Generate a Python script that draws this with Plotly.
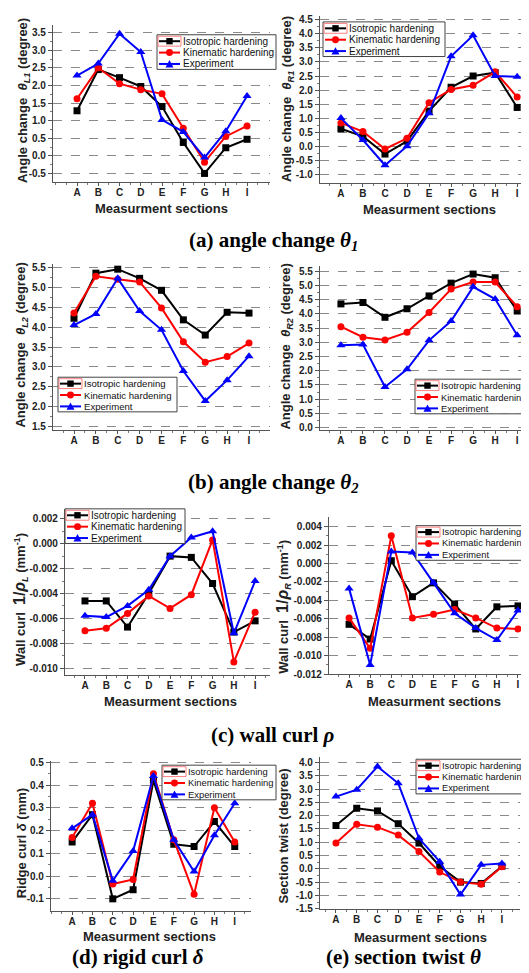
import plotly.graph_objects as go
import numpy as np

W, H = 529, 973
sections = ["A", "B", "C", "D", "E", "F", "G", "H", "I"]
series_names = ["Isotropic hardening", "Kinematic hardening", "Experiment"]
series_colors = ["#000000", "#ff0000", "#0000ff"]
series_symbols = ["square", "circle", "triangle-up"]

# (a) angle change theta_1
thetaL1_iso = [1.28, 2.45, 2.22, 1.97, 1.40, 0.38, -0.50, 0.23, 0.47]
thetaL1_kin = [1.62, 2.50, 2.05, 1.88, 1.76, 0.78, -0.18, 0.55, 0.85]
thetaL1_exp = [2.28, 2.62, 3.47, 2.95, 1.02, 0.68, -0.05, 0.70, 1.70]

thetaR1_iso = [0.62, 0.35, -0.28, 0.18, 1.25, 2.10, 2.50, 2.62, 1.38]
thetaR1_kin = [0.83, 0.52, -0.10, 0.28, 1.55, 2.02, 2.17, 2.65, 1.75]
thetaR1_exp = [1.00, 0.22, -0.68, 0.00, 1.17, 3.20, 3.95, 2.50, 2.47]

# (b) angle change theta_2
thetaL2_iso = [4.22, 5.35, 5.45, 5.22, 4.92, 4.18, 3.80, 4.37, 4.35]
thetaL2_kin = [4.35, 5.27, 5.20, 5.13, 4.48, 3.63, 3.12, 3.26, 3.60]
thetaL2_exp = [4.05, 4.33, 5.22, 4.40, 3.93, 2.90, 2.15, 2.67, 3.27]

thetaR2_iso = [4.35, 4.40, 3.88, 4.18, 4.63, 5.08, 5.40, 5.27, 4.10]
thetaR2_kin = [3.55, 3.18, 3.08, 3.35, 4.05, 4.87, 5.12, 5.12, 4.25]
thetaR2_exp = [2.90, 2.92, 1.43, 2.05, 3.07, 3.75, 4.95, 4.52, 3.25]

# (c) wall curl 1/rho
rhoL_iso = [-0.0046, -0.0046, -0.0067, -0.0040, -0.0010, -0.0011, -0.0032, -0.0071, -0.0062]
rhoL_kin = [-0.0070, -0.0068, -0.0056, -0.0042, -0.0052, -0.0041, 0.0003, -0.0095, -0.0055]
rhoL_exp = [-0.0058, -0.0059, -0.0050, -0.0037, -0.0010, 0.0005, 0.0010, -0.0072, -0.0030]

rhoR_iso = [-0.0066, -0.0082, 0.0003, -0.0036, -0.0021, -0.0044, -0.0071, -0.0047, -0.0046]
rhoR_kin = [-0.0059, -0.0092, 0.0030, -0.0059, -0.0055, -0.0050, -0.0059, -0.0070, -0.0071]
rhoR_exp = [-0.0027, -0.0110, 0.0013, 0.0012, -0.0021, -0.0054, -0.0070, -0.0083, -0.0051]

# (d) ridge curl delta
delta_iso = [0.15, 0.27, -0.10, -0.06, 0.42, 0.14, 0.13, 0.24, 0.13]
delta_kin = [0.17, 0.32, -0.035, -0.015, 0.45, 0.16, -0.08, 0.30, 0.15]
delta_exp = [0.21, 0.27, -0.02, 0.11, 0.44, 0.16, 0.02, 0.18, 0.32]

# (e) section twist
twist_iso = [1.63, 2.28, 2.18, 1.70, 0.97, 0.10, -0.50, -0.55, 0.10]
twist_kin = [0.97, 1.68, 1.57, 1.27, 0.65, -0.12, -0.50, -0.58, 0.08]
twist_exp = [2.72, 2.98, 3.85, 3.22, 1.15, 0.27, -0.97, 0.15, 0.20]

SANS = "Liberation Sans, Arial, sans-serif"
SERIF = "Liberation Serif, Times New Roman, serif"

def px(x):
    return x / W

def py(y):
    return 1 - y / H

panels = [
    dict(data=[thetaL1_iso, thetaL1_kin, thetaL1_exp], xd=(45, 262), yd=(13, 172),
         xr=(-1.13, 9.08), yr=(-0.75, 3.72), tk=(-0.5, 3.5, 0.5), fmt="{:.1f}",
         ytitle="Angle change  <i>θ</i><sub><i>L1</i></sub> (degree)", ytpos=(15, 90),
         xtpos=(153, 199), leg=(149, 23, 119, 10)),
    dict(data=[thetaR1_iso, thetaR1_kin, thetaR1_exp], xd=(312, 529), yd=(4, 173),
         xr=(-0.95, 8.9), yr=(-1.32, 4.64), tk=(-1.0, 4.5, 0.5), fmt="{:.1f}",
         ytitle="Angle change  <i>θ</i><sub><i>R1</i></sub> (degree)", ytpos=(279, 88),
         xtpos=(421, 200), leg=(315, 10, 122, 10)),
    dict(data=[thetaL2_iso, thetaL2_kin, thetaL2_exp], xd=(45, 262), yd=(255, 422),
         xr=(-0.96, 8.96), yr=(1.43, 5.57), tk=(1.5, 5.5, 0.5), fmt="{:.1f}",
         ytitle="Angle change  <i>θ</i><sub><i>L2</i></sub> (degree)", ytpos=(14, 337),
         xtpos=None, leg=(50, 369, 119, 9.6)),
    dict(data=[thetaR2_iso, thetaR2_kin, thetaR2_exp], xd=(312, 529), yd=(257, 422),
         xr=(-0.95, 8.9), yr=(-0.07, 5.67), tk=(0.0, 5.5, 0.5), fmt="{:.1f}",
         ytitle="Angle change  <i>θ</i><sub><i>R2</i></sub> (degree)", ytpos=(279, 338),
         xtpos=None, leg=(407, 371, 125, 9.4)),
    dict(data=[rhoL_iso, rhoL_kin, rhoL_exp], xd=(57, 262), yd=(502, 670),
         xr=(-0.94, 8.7), yr=(-0.01056, 0.0028), tk=(-0.010, 0.002, 0.002), fmt="{:.3f}",
         ytitle="Wall curl  <span style='font-size:16px'>1/<i>ρ</i></span><sub><i>L</i></sub> (mm<sup>-1</sup>)",
         ytpos=(13, 594), xtpos=(162, 697), leg=(57, 502, 120, 10)),
    dict(data=[rhoR_iso, rhoR_kin, rhoR_exp], xd=(321, 529), yd=(510, 669),
         xr=(-0.95, 8.9), yr=(-0.012, 0.00507), tk=(-0.012, 0.004, 0.002), fmt="{:.3f}",
         ytitle="Wall curl  <span style='font-size:16px'>1/<i>ρ</i></span><sub><i>R</i></sub> (mm<sup>-1</sup>)",
         ytpos=(276, 601), xtpos=(426, 697), leg=(408, 519, 125, 9.3)),
    dict(data=[delta_iso, delta_kin, delta_exp], xd=(43, 243), yd=(757, 908),
         xr=(-1.04, 8.8), yr=(-0.152, 0.505), tk=(-0.1, 0.5, 0.1), fmt="{:.1f}",
         ytitle="Ridge curl <i>δ</i> (mm)", ytpos=(13, 840),
         xtpos=(141, 934), leg=(154, 761, 114, 9.4)),
    dict(data=[twist_iso, twist_kin, twist_exp], xd=(312, 512), yd=(753, 906),
         xr=(-0.77, 8.87), yr=(-1.5, 4.2), tk=(-1.5, 4.0, 0.5), fmt="{:.1f}",
         ytitle="Section twist (degree)", ytpos=(275, 833),
         xtpos=(412, 935), leg=(408, 755, 125, 9.3)),
]

captions = [
    ("<b>(a) angle change <i>θ</i><sub><i>1</i></sub></b>", 265, 231),
    ("<b>(b) angle change <i>θ</i><sub><i>2</i></sub></b>", 265, 476),
    ("<b>(c) wall curl <i>ρ</i></b>", 265, 731),
    ("<b>(d) rigid curl <i>δ</i></b>", 130, 955),
    ("<b>(e) section twist <i>θ</i></b>", 395, 955),
]

fig = go.Figure()
layout = dict(width=W, height=H, margin=dict(l=0, r=0, t=0, b=0), autosize=False,
              plot_bgcolor="white", paper_bgcolor="white", showlegend=False)
annotations = []
shapes = []
xidx = list(range(len(sections)))

for i, p in enumerate(panels, start=1):
    sfx = "" if i == 1 else str(i)
    for vals, name, col, sym in zip(p["data"], series_names, series_colors, series_symbols):
        fig.add_trace(go.Scatter(
            x=xidx, y=vals, name=name, mode="lines+markers",
            xaxis="x" + sfx, yaxis="y" + sfx,
            line=dict(color=col, width=2),
            marker=dict(symbol=sym, size=8 if sym == "triangle-up" else 7, color=col),
            cliponaxis=False,
        ))
    t0, t1, dt = p["tk"]
    tv = [float(v) for v in np.round(np.arange(t0, t1 + dt / 2, dt), 6)]
    tt = [p["fmt"].format(v) for v in tv]
    tt = ["0.000" if t == "-0.000" else ("0.0" if t == "-0.0" else t) for t in tt]
    layout["xaxis" + sfx] = dict(
        domain=[px(p["xd"][0]), px(p["xd"][1])], anchor="y" + sfx, range=list(p["xr"]),
        tickvals=xidx, ticktext=sections, ticks="outside", ticklen=3, tickwidth=1,
        tickcolor="#555", showline=True, linecolor="#555", linewidth=1.2,
        showgrid=False, zeroline=False, ticklabelstandoff=-2,
        minor=dict(dtick=0.5, tick0=0, ticks="outside", ticklen=2, tickcolor="#777", showgrid=False),
        tickfont=dict(family=SANS, size=10, color="#222", weight="bold"),
    )
    layout["yaxis" + sfx] = dict(
        domain=[py(p["yd"][1]), py(p["yd"][0])], anchor="x" + sfx, range=list(p["yr"]),
        tickvals=tv, ticktext=tt, ticks="outside", ticklen=4, tickwidth=1, tickcolor="#555",
        showline=True, linecolor="#555", linewidth=1.2, zeroline=False,
        showgrid=True, gridcolor="#8a8a8a", gridwidth=1.3, griddash="dash",
        minor=dict(tickvals=[round(v + dt / 2, 6) for v in tv[:-1]], ticks="outside",
                   ticklen=2, tickcolor="#777", showgrid=False),
        tickfont=dict(family=SANS, size=10, color="#222", weight="bold"),
    )
    # axis titles
    annotations.append(dict(text=p["ytitle"], x=px(p["ytpos"][0]), y=py(p["ytpos"][1]),
                            xref="paper", yref="paper", showarrow=False, textangle=-90,
                            xanchor="center", yanchor="middle",
                            font=dict(family=SANS, size=13, color="#222", weight="bold")))
    if p["xtpos"] is not None:
        annotations.append(dict(text="Measurment sections", x=px(p["xtpos"][0]), y=py(p["xtpos"][1]),
                                xref="paper", yref="paper", showarrow=False,
                                xanchor="center", yanchor="middle",
                                font=dict(family=SANS, size=13, color="#222", weight="bold")))
    # legend box
    lx, ly, lw, fs = p["leg"]
    lh = 35
    shapes.append(dict(type="rect", xref="paper", yref="paper",
                       x0=px(lx), x1=px(min(lx + lw, W - 0.5)), y0=py(ly + lh), y1=py(ly),
                       fillcolor="white", line=dict(color="#444", width=1), layer="above"))
    for k, (name, col, sym) in enumerate(zip(series_names, series_colors, series_symbols)):
        ry = ly + 6.5 + k * 11.5
        sx0, sx1 = lx + 2, lx + 23
        cx = (sx0 + sx1) / 2
        if k == 0:
            shapes.append(dict(type="rect", xref="paper", yref="paper",
                               x0=px(sx0 - 1), x1=px(sx1 + 1), y0=py(ry + 5), y1=py(ry - 5),
                               line=dict(color="#ff6060", width=0.8), layer="above"))
        shapes.append(dict(type="line", xref="paper", yref="paper",
                           x0=px(sx0), x1=px(sx1), y0=py(ry), y1=py(ry),
                           line=dict(color=col, width=2), layer="above"))
        if sym == "square":
            shapes.append(dict(type="rect", xref="paper", yref="paper",
                               x0=px(cx - 3.2), x1=px(cx + 3.2), y0=py(ry + 3.2), y1=py(ry - 3.2),
                               fillcolor=col, line=dict(width=0), layer="above"))
        elif sym == "circle":
            shapes.append(dict(type="circle", xref="paper", yref="paper",
                               x0=px(cx - 3.5), x1=px(cx + 3.5), y0=py(ry + 3.5), y1=py(ry - 3.5),
                               fillcolor=col, line=dict(width=0), layer="above"))
        else:
            path = "M {:.5f},{:.5f} L {:.5f},{:.5f} L {:.5f},{:.5f} Z".format(
                px(cx - 4), py(ry + 3.5), px(cx + 4), py(ry + 3.5), px(cx), py(ry - 4))
            shapes.append(dict(type="path", xref="paper", yref="paper", path=path,
                               fillcolor=col, line=dict(width=0), layer="above"))
        annotations.append(dict(text=name, x=px(lx + 24), y=py(ry), xref="paper", yref="paper",
                                showarrow=False, xanchor="left", yanchor="middle",
                                font=dict(family=SANS, size=fs, color="#111")))

for text, cx, cy in captions:
    annotations.append(dict(text=text, x=px(cx), y=py(cy), xref="paper", yref="paper",
                            showarrow=False, xanchor="center", yanchor="middle",
                            font=dict(family=SERIF, size=21, color="#000")))

layout["annotations"] = annotations
layout["shapes"] = shapes
fig.update_layout(**layout)
fig.write_html("out.html")
